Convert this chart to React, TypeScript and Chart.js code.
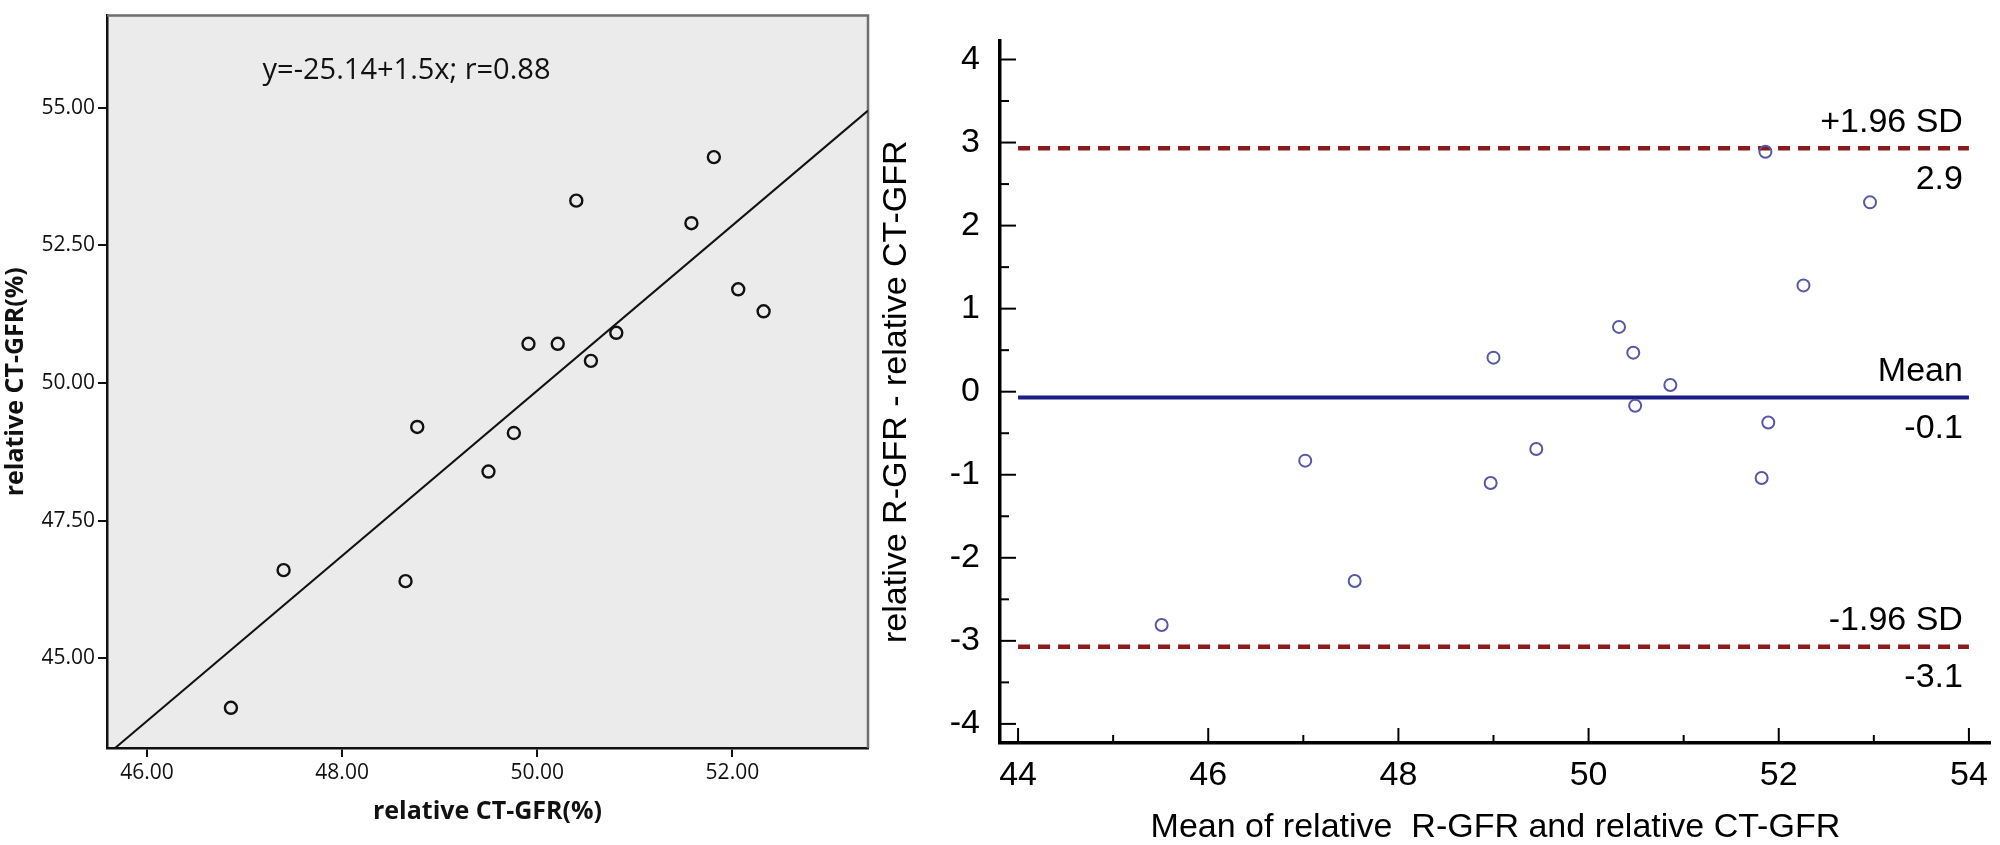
import React, { useEffect, useRef } from 'react';
import { Chart, registerables } from 'chart.js';

Chart.register(...registerables);

// left panel: relative CT-GFR (x) against relative GFR (y)
const ctGfr = [50.40, 51.81, 51.58, 49.91, 50.21, 50.55, 50.81, 52.06, 52.32, 48.77, 49.76, 49.50, 47.40, 48.65, 46.86];
const rGfr = [53.31, 54.10, 52.90, 50.71, 50.71, 50.40, 50.91, 51.70, 51.30, 49.20, 49.09, 48.39, 46.60, 46.40, 44.10];
const fitIntercept = -25.14;
const fitSlope = 1.5;
const fitText = 'y=-25.14+1.5x; r=0.88';
const leftXTicks = [46, 48, 50, 52];
const leftYTicks = [45, 47.5, 50, 52.5, 55];
const leftXRange = [45.59, 53.39];
const leftYRange = [43.37, 56.67];

// right panel: Bland-Altman
const baMean = [51.86, 52.96, 52.26, 50.32, 50.47, 49.0, 50.86, 50.49, 51.89, 49.45, 47.02, 48.97, 51.82, 47.54, 45.51];
const baDiff = [2.89, 2.28, 1.28, 0.78, 0.47, 0.41, 0.08, -0.17, -0.37, -0.69, -0.83, -1.10, -1.04, -2.28, -2.81];
const upperLoA = 2.93;
const meanDiff = -0.07;
const lowerLoA = -3.07;
const rightXTicks = [44, 46, 48, 50, 52, 54];
const rightXMinor = [45, 47, 49, 51, 53];
const rightYTicks = [-4, -3, -2, -1, 0, 1, 2, 3, 4];
const rightYMinor = [-3.5, -2.5, -1.5, -0.5, 0.5, 1.5, 2.5, 3.5];
const rightXRange = [43.81, 54.23];
const rightYRange = [-4.23, 4.23];

const spssFont = "'Open Sans', 'Noto Sans', sans-serif";
const arialFont = "'Liberation Sans', Arial, sans-serif";

const leftPanelPlugin = {
  id: 'leftPanel',
  beforeDraw(chart: any) {
    const { ctx, chartArea: a } = chart;
    ctx.save();
    ctx.fillStyle = '#ebebeb';
    ctx.fillRect(a.left, a.top, a.right - a.left, a.bottom - a.top);
    ctx.restore();
  },
  beforeDatasetsDraw(chart: any) {
    const { ctx, chartArea: a } = chart;
    ctx.save();
    ctx.strokeStyle = '#6e6e6e';
    ctx.lineWidth = 2.5;
    ctx.beginPath();
    ctx.moveTo(a.left, a.top);
    ctx.lineTo(a.right, a.top);
    ctx.lineTo(a.right, a.bottom);
    ctx.stroke();
    ctx.restore();
  },
  afterDatasetsDraw(chart: any) {
    const { ctx, scales } = chart;
    ctx.save();
    ctx.fillStyle = '#111';
    ctx.font = `29px ${spssFont}`;
    ctx.textAlign = 'center';
    ctx.textBaseline = 'middle';
    ctx.fillText(fitText, scales.x.getPixelForValue(48.66), scales.y.getPixelForValue(55.66));
    ctx.restore();
  },
};

const rightPanelPlugin = {
  id: 'rightPanel',
  afterDatasetsDraw(chart: any) {
    const { ctx, scales, chartArea: a } = chart;
    ctx.save();
    ctx.strokeStyle = '#000';
    ctx.lineWidth = 2;
    // tick marks point into the plot
    const xtick = (vals: number[], len: number) => {
      vals.forEach((v) => {
        const px = scales.x.getPixelForValue(v);
        ctx.beginPath();
        ctx.moveTo(px, a.bottom);
        ctx.lineTo(px, a.bottom - len);
        ctx.stroke();
      });
    };
    const ytick = (vals: number[], len: number) => {
      vals.forEach((v) => {
        const py = scales.y.getPixelForValue(v);
        ctx.beginPath();
        ctx.moveTo(a.left, py);
        ctx.lineTo(a.left + len, py);
        ctx.stroke();
      });
    };
    xtick(rightXTicks, 15);
    xtick(rightXMinor, 8);
    ytick(rightYTicks, 16);
    ytick(rightYMinor, 9);

    // labels for the limit lines
    const lines = [
      { name: '+1.96 SD', value: upperLoA },
      { name: 'Mean', value: meanDiff },
      { name: '-1.96 SD', value: lowerLoA },
    ];
    ctx.fillStyle = '#000';
    ctx.font = `34px ${arialFont}`;
    ctx.textAlign = 'right';
    ctx.textBaseline = 'middle';
    const xr = scales.x.getPixelForValue(54) - 6;
    lines.forEach((l) => {
      const py = scales.y.getPixelForValue(l.value);
      ctx.fillText(l.name, xr, py - 26);
      ctx.fillText(l.value.toFixed(1), xr, py + 31);
    });
    ctx.restore();
  },
};

const App: React.FC = () => {
  const leftRef = useRef<HTMLCanvasElement | null>(null);
  const rightRef = useRef<HTMLCanvasElement | null>(null);

  useEffect(() => {
    if (!leftRef.current || !rightRef.current) return;

    const leftChart = new Chart(leftRef.current, {
      type: 'scatter',
      data: {
        datasets: [
          {
            data: ctGfr.map((x, i) => ({ x, y: rGfr[i] })),
            pointStyle: 'circle',
            pointRadius: 6,
            pointBorderWidth: 2.4,
            pointBorderColor: '#111',
            pointBackgroundColor: 'rgba(0,0,0,0)',
          },
          {
            data: leftXRange.map((x) => ({ x, y: fitIntercept + fitSlope * x })),
            showLine: true,
            borderColor: '#111',
            borderWidth: 2,
            pointRadius: 0,
          },
        ],
      },
      options: {
        responsive: false,
        animation: false,
        events: [],
        layout: { padding: { left: 0, right: 12, top: 6, bottom: 0 } },
        plugins: { legend: { display: false }, tooltip: { enabled: false } },
        scales: {
          x: {
            type: 'linear',
            min: leftXRange[0],
            max: leftXRange[1],
            afterBuildTicks: (s: any) => { s.ticks = leftXTicks.map((v) => ({ value: v })); },
            afterFit: (s: any) => { s.height = 97; },
            grid: { drawOnChartArea: false, drawTicks: true, tickLength: 9, color: '#111', lineWidth: 2 },
            border: { display: true, color: '#111', width: 2.5 },
            ticks: {
              callback: (v: any) => Number(v).toFixed(2),
              color: '#111',
              font: { family: spssFont, size: 21 },
              padding: 3,
              maxRotation: 0,
              autoSkip: false,
            },
            title: {
              display: true,
              text: 'relative CT-GFR(%)',
              color: '#111',
              font: { family: spssFont, size: 25, weight: 'bold' },
              padding: { top: 0, bottom: 18 },
            },
          },
          y: {
            type: 'linear',
            min: leftYRange[0],
            max: leftYRange[1],
            afterBuildTicks: (s: any) => { s.ticks = leftYTicks.map((v) => ({ value: v })); },
            afterFit: (s: any) => { s.width = 107; },
            grid: { drawOnChartArea: false, drawTicks: true, tickLength: 9, color: '#111', lineWidth: 2 },
            border: { display: true, color: '#111', width: 2.5 },
            ticks: {
              callback: (v: any) => Number(v).toFixed(2),
              color: '#111',
              font: { family: spssFont, size: 21 },
              padding: 3,
              autoSkip: false,
            },
            title: {
              display: true,
              text: 'relative CT-GFR(%)',
              color: '#111',
              font: { family: spssFont, size: 25, weight: 'bold' },
              padding: { top: 1, bottom: 0 },
            },
          },
        },
      },
      plugins: [leftPanelPlugin],
    } as any);

    const flatLine = (v: number) => [{ x: 44, y: v }, { x: 54, y: v }];

    const rightChart = new Chart(rightRef.current, {
      type: 'scatter',
      data: {
        datasets: [
          {
            data: baMean.map((x, i) => ({ x, y: baDiff[i] })),
            pointStyle: 'circle',
            pointRadius: 6,
            pointBorderWidth: 2,
            pointBorderColor: '#5757a8',
            pointBackgroundColor: 'rgba(0,0,0,0)',
          },
          {
            data: flatLine(upperLoA),
            showLine: true,
            borderColor: '#8b1a1a',
            borderWidth: 4.5,
            borderDash: [12, 8],
            pointRadius: 0,
          },
          {
            data: flatLine(meanDiff),
            showLine: true,
            borderColor: '#1c1c85',
            borderWidth: 4,
            pointRadius: 0,
          },
          {
            data: flatLine(lowerLoA),
            showLine: true,
            borderColor: '#8b1a1a',
            borderWidth: 4.5,
            borderDash: [12, 8],
            pointRadius: 0,
          },
        ],
      },
      options: {
        responsive: false,
        animation: false,
        events: [],
        layout: { padding: { left: 0, right: 6, top: 5, bottom: 0 } },
        plugins: { legend: { display: false }, tooltip: { enabled: false } },
        scales: {
          x: {
            type: 'linear',
            min: rightXRange[0],
            max: rightXRange[1],
            afterBuildTicks: (s: any) => { s.ticks = rightXTicks.map((v) => ({ value: v })); },
            afterFit: (s: any) => { s.height = 102; },
            grid: { display: false, drawTicks: false },
            border: { display: true, color: '#000', width: 3.5 },
            ticks: {
              color: '#000',
              font: { family: arialFont, size: 34 },
              padding: 12,
              maxRotation: 0,
              autoSkip: false,
            },
            title: {
              display: true,
              text: 'Mean of relative  R-GFR and relative CT-GFR',
              color: '#000',
              font: { family: arialFont, size: 34, lineHeight: 1 },
              padding: { top: 0, bottom: 0 },
            },
          },
          y: {
            type: 'linear',
            min: rightYRange[0],
            max: rightYRange[1],
            afterBuildTicks: (s: any) => { s.ticks = rightYTicks.map((v) => ({ value: v })); },
            afterFit: (s: any) => { s.width = 130; },
            grid: { display: false, drawTicks: false },
            border: { display: true, color: '#000', width: 3.5 },
            ticks: {
              color: '#000',
              font: { family: arialFont, size: 34 },
              padding: 20,
              autoSkip: false,
            },
            title: {
              display: true,
              text: 'relative R-GFR - relative CT-GFR',
              color: '#000',
              font: { family: arialFont, size: 34, lineHeight: 1 },
              padding: { top: 10, bottom: 0 },
            },
          },
        },
      },
      plugins: [rightPanelPlugin],
    } as any);

    return () => {
      leftChart.destroy();
      rightChart.destroy();
    };
  }, []);

  return (
    <div style={{ position: 'absolute', left: 0, top: 0, width: 2000, height: 845, background: '#fff' }}>
      <canvas
        ref={leftRef}
        width={880}
        height={845}
        style={{ position: 'absolute', left: 0, top: 0, width: 880, height: 845 }}
      />
      <canvas
        ref={rightRef}
        width={1130}
        height={845}
        style={{ position: 'absolute', left: 870, top: 0, width: 1130, height: 845 }}
      />
    </div>
  );
};

export default App;
